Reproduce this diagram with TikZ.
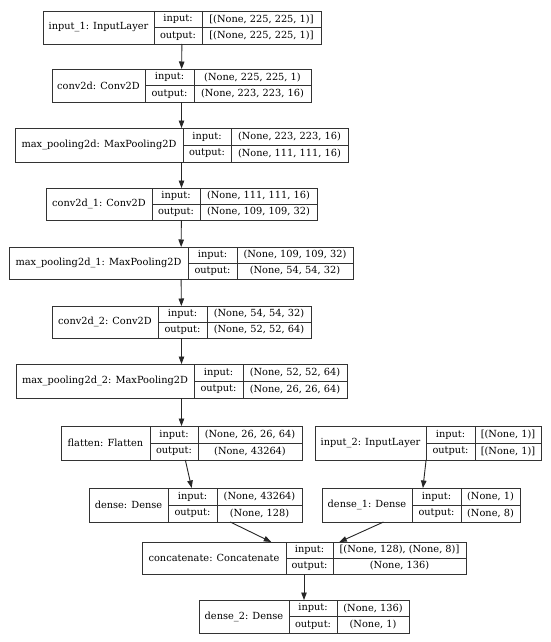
\documentclass[tikz,border=0pt]{standalone}
\usepackage{fontspec}
\setmainfont{DejaVu Serif}
\usetikzlibrary{arrows.meta}
\tikzset{
  boxn/.style={draw=black!80, line width=0.9pt, inner sep=0pt, outer sep=0pt},
  lin/.style={draw=black!80, line width=0.9pt},
  txt/.style={inner sep=0pt, font=\fontsize{9.8}{11}\selectfont, text=black},
  conn/.style={draw=black!85, line width=0.9pt, -{Triangle[length=7.5pt,width=5.5pt]}, shorten >=0pt}
}
\newcommand\kbox[8]{%
  \node[boxn, minimum width={(#5-#2)*1pt}, minimum height={(#7-#6)*1pt}] (#1) at ({(#2+#5)/2},{(#6+#7)/2}) {};
  \draw[lin] (#3,#6) -- (#3,#7) (#4,#6) -- (#4,#7) (#3,{(#6+#7)/2}) -- (#5,{(#6+#7)/2});
  \node[txt] (#1-name) at ({(#2+#3)/2},{(#6+#7)/2}) {#8};
  \node[txt] (#1-inl) at ({(#3+#4)/2},{(3*#6+#7)/4}) {input:};
  \node[txt] (#1-outl) at ({(#3+#4)/2},{(#6+3*#7)/4}) {output:};
  \coordinate (#1-vin) at ({(#4+#5)/2},{(3*#6+#7)/4});
  \coordinate (#1-vout) at ({(#4+#5)/2},{(#6+3*#7)/4});
}
\newcommand\kvals[3]{%
  \node[txt] (#1-in) at (#1-vin) {#2};
  \node[txt] (#1-out) at (#1-vout) {#3};
}
\begin{document}
\begin{tikzpicture}[x=1pt, y=-1pt]
\useasboundingbox[fill=white] (0,0) rectangle (550,642);
\kbox{in1}{43}{154}{202}{321}{11}{44}{input\_1: InputLayer}
\kvals{in1}{[(None, 225, 225, 1)]}{[(None, 225, 225, 1)]}
\kbox{c0}{52}{145}{194}{311}{69}{102}{conv2d: Conv2D}
\kvals{c0}{(None, 225, 225, 1)}{(None, 223, 223, 16)}
\kbox{p0}{15}{183}{231}{348}{128}{162}{max\_pooling2d: MaxPooling2D}
\kvals{p0}{(None, 223, 223, 16)}{(None, 111, 111, 16)}
\kbox{c1}{46}{152}{200}{317}{188}{220}{conv2d\_1: Conv2D}
\kvals{c1}{(None, 111, 111, 16)}{(None, 109, 109, 32)}
\kbox{p1}{9}{188}{237}{353}{247}{279}{max\_pooling2d\_1: MaxPooling2D}
\kvals{p1}{(None, 109, 109, 32)}{(None, 54, 54, 32)}
\kbox{c2}{52}{158}{207}{311}{306}{338}{conv2d\_2: Conv2D}
\kvals{c2}{(None, 54, 54, 32)}{(None, 52, 52, 64)}
\kbox{p2}{16}{194}{243}{347}{364}{398}{max\_pooling2d\_2: MaxPooling2D}
\kvals{p2}{(None, 52, 52, 64)}{(None, 26, 26, 64)}
\kbox{fl}{61}{150}{198}{302}{426}{460}{flatten: Flatten}
\kvals{fl}{(None, 26, 26, 64)}{(None, 43264)}
\kbox{in2}{315}{426}{475}{541}{426}{460}{input\_2: InputLayer}
\kvals{in2}{[(None, 1)]}{[(None, 1)]}
\kbox{d0}{89}{168}{217}{302}{488}{522}{dense: Dense}
\kvals{d0}{(None, 43264)}{(None, 128)}
\kbox{d1}{322}{412}{461}{520}{488}{522}{dense\_1: Dense}
\kvals{d1}{(None, 1)}{(None, 8)}
\kbox{cat}{142}{286}{333}{466}{542}{574}{concatenate: Concatenate}
\kvals{cat}{[(None, 128), (None, 8)]}{(None, 136)}
\kbox{d2}{199}{289}{337}{409}{600}{633}{dense\_2: Dense}
\kvals{d2}{(None, 136)}{(None, 1)}
\draw[conn] (in1) -- (c0);
\draw[conn] (c0) -- (p0);
\draw[conn] (p0) -- (c1);
\draw[conn] (c1) -- (p1);
\draw[conn] (p1) -- (c2);
\draw[conn] (c2) -- (p2);
\draw[conn] (p2) -- (fl);
\draw[conn] (fl) -- (d0);
\draw[conn] (in2) -- (d1);
\draw[conn] (d0) -- (cat);
\draw[conn] (d1) -- (cat);
\draw[conn] (cat) -- (d2);
\end{tikzpicture}
\end{document}
